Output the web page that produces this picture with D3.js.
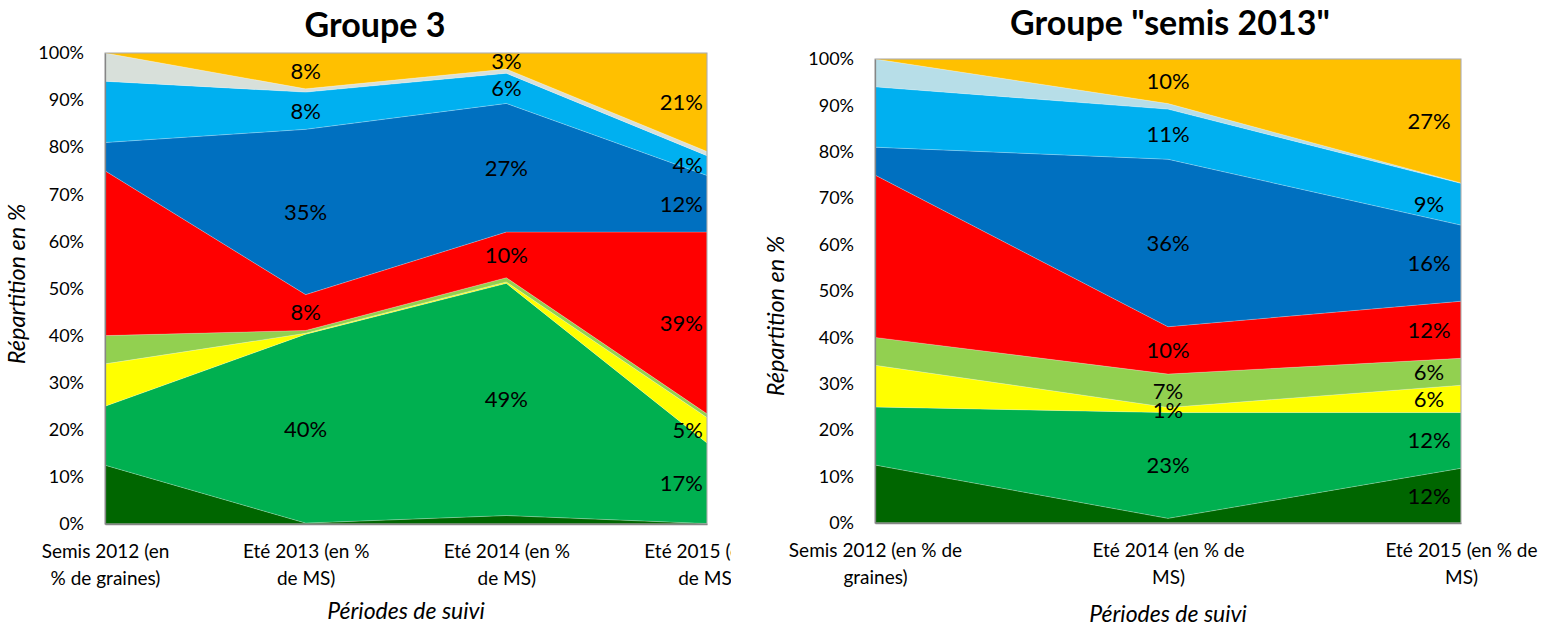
<!DOCTYPE html>
<html>
<head>
<meta charset="utf-8">
<script src="https://cdn.jsdelivr.net/npm/d3@7"></script>
<style>
  html, body { margin: 0; padding: 0; background: #fff; }
  svg { display: block; font-family: Lato, "Open Sans", sans-serif; }
</style>
</head>
<body>
<svg id="fig" width="1553" height="630"></svg>
<script>
// Stacked layers, bottom to top (percent of the total at each period)
const layerKeys = ["vertFonce", "vert", "jaune", "vertClair", "rouge", "bleu", "bleuClair", "pale", "orange"];

// Groupe 3
const g3Periods = [
  ["Semis 2012 (en", "% de graines)"],
  ["Eté 2013 (en %", "de MS)"],
  ["Eté 2014 (en %", "de MS)"],
  ["Eté 2015 (en %", "de MS)"]
];
const g3VertFonce = [12.5, 0.2, 1.8, 0.1];
const g3Vert      = [12.5, 40.1, 49.3, 17.1];
const g3Jaune     = [9.0, 0.2, 0.3, 5.4];
const g3VertClair = [6.0, 0.6, 0.9, 0.8];
const g3Rouge     = [35.0, 7.6, 9.7, 38.6];
const g3Bleu      = [6.0, 35.1, 27.3, 12.0];
const g3BleuClair = [13.0, 7.9, 6.4, 4.2];
const g3Pale      = [6.0, 0.7, 0.9, 0.9];
const g3Orange    = [0.0, 7.6, 3.4, 20.9];
// [period index, layer] pairs that carry a value label
const g3Labels = [
  [1, "vert"], [1, "rouge"], [1, "bleu"], [1, "bleuClair"], [1, "orange"],
  [2, "vert"], [2, "rouge"], [2, "bleu"], [2, "bleuClair"], [2, "orange"],
  [3, "vert"], [3, "jaune"], [3, "rouge"], [3, "bleu"], [3, "bleuClair"], [3, "orange"]
];

// Groupe "semis 2013"
const s13Periods = [
  ["Semis 2012 (en % de", "graines)"],
  ["Eté 2014 (en % de", "MS)"],
  ["Eté 2015 (en % de", "MS)"]
];
const s13VertFonce = [12.5, 1.0, 11.8];
const s13Vert      = [12.5, 22.8, 12.0];
const s13Jaune     = [9.0, 1.1, 5.9];
const s13VertClair = [6.0, 7.2, 5.8];
const s13Rouge     = [35.0, 10.2, 12.3];
const s13Bleu      = [6.0, 36.1, 16.4];
const s13BleuClair = [13.0, 10.8, 9.0];
const s13Pale      = [6.0, 1.2, 0.1];
const s13Orange    = [0.0, 9.6, 26.7];
const s13Labels = [
  [1, "vert"], [1, "jaune"], [1, "vertClair"], [1, "rouge"], [1, "bleu"], [1, "bleuClair"], [1, "orange"],
  [2, "vertFonce"], [2, "vert"], [2, "jaune"], [2, "vertClair"], [2, "rouge"], [2, "bleu"], [2, "bleuClair"], [2, "orange"]
];

const yTicks = [0, 10, 20, 30, 40, 50, 60, 70, 80, 90, 100];

const baseColors = {
  vertFonce: "#006600", vert: "#00B050", jaune: "#FFFF00", vertClair: "#92D050",
  rouge: "#FF0000", bleu: "#0070C0", bleuClair: "#00B0F0", orange: "#FFC000"
};

const svg = d3.select("#fig");
const fmtPct = d => d3.format(".0f")(d) + "%";

function drawChart(opt) {
  const rows = opt.periods.map((p, i) => {
    const r = { idx: i };
    layerKeys.forEach((k, j) => { r[k] = opt.layers[j][i]; });
    return r;
  });
  const stacked = d3.stack().keys(layerKeys)(rows);

  const g = svg.append("g");
  if (opt.clipRight) {
    const id = "clip" + Math.round(opt.left);
    svg.append("defs").append("clipPath").attr("id", id)
      .append("rect").attr("x", 0).attr("y", 0).attr("width", opt.clipRight).attr("height", 630);
    g.attr("clip-path", `url(#${id})`);
  }

  const x = d3.scalePoint().domain(rows.map(r => r.idx)).range([opt.left, opt.right]);
  const y = d3.scaleLinear().domain([0, 100]).range([opt.bottom, opt.top]);

  const colors = Object.assign({}, baseColors, { pale: opt.paleColor });

  const area = d3.area()
    .x(d => x(d.data.idx))
    .y0(d => y(d[0]))
    .y1(d => y(d[1]));

  g.append("g").selectAll("path").data(stacked).join("path")
    .attr("d", area)
    .attr("fill", d => colors[d.key])
    .attr("stroke", "rgba(255,255,255,0.35)")
    .attr("stroke-width", 0.6);

  // plot frame
  g.append("rect")
    .attr("x", opt.left).attr("y", opt.top)
    .attr("width", opt.right - opt.left).attr("height", opt.bottom - opt.top)
    .attr("fill", "none").attr("stroke", "#A6A6A6").attr("stroke-width", 1);

  // y axis
  const ya = g.append("g").attr("transform", `translate(${opt.left},0)`)
    .call(d3.axisLeft(y).tickValues(yTicks).tickFormat(d => d + "%").tickSize(0).tickPadding(21));
  ya.select(".domain").attr("stroke", "#868686").attr("stroke-width", 1.3);
  ya.selectAll("text").attr("font-size", 18).attr("fill", "#000").attr("font-family", "Lato");

  // x axis
  const xa = g.append("g").attr("transform", `translate(0,${opt.bottom})`)
    .call(d3.axisBottom(x).tickSize(0).tickFormat(""));
  xa.select(".domain").attr("stroke", "#868686").attr("stroke-width", 1.3);
  xa.selectAll(".tick").each(function (d) {
    const t = d3.select(this).append("text")
      .attr("fill", "#000").attr("font-size", 19).attr("font-family", "Lato")
      .attr("text-anchor", "middle");
    opt.periods[d].forEach((line, li) => {
      t.append("tspan").attr("x", 0).attr("y", opt.xLabelY + li * 27).text(line);
    });
  });

  // value labels
  const byKey = {};
  stacked.forEach(s => { byKey[s.key] = s; });
  const lastIdx = rows.length - 1;
  g.append("g").selectAll("text").data(opt.labels).join("text")
    .attr("x", ([i]) => i === lastIdx ? x(i) + opt.lastDx : x(i))
    .attr("y", ([i, k]) => y((byKey[k][i][0] + byKey[k][i][1]) / 2))
    .attr("dy", "0.36em")
    .attr("text-anchor", ([i]) => i === lastIdx ? opt.lastAnchor : "middle")
    .attr("font-size", 22).attr("font-family", "Lato").attr("fill", "#000")
    .text(([i, k]) => fmtPct(rows[i][k]));

  // titles
  g.append("text").attr("x", opt.titleX).attr("y", opt.titleY)
    .attr("text-anchor", "middle").attr("font-size", 34).attr("font-weight", "bold")
    .attr("font-family", "Lato").attr("fill", "#000").text(opt.title);

  g.append("text").attr("x", (opt.left + opt.right) / 2).attr("y", opt.xTitleY)
    .attr("text-anchor", "middle").attr("font-size", 23).attr("font-style", "italic")
    .attr("font-family", "Lato").attr("fill", "#000").text("Périodes de suivi");

  g.append("text")
    .attr("transform", `translate(${opt.yTitleX},${opt.yTitleY}) rotate(-90)`)
    .attr("text-anchor", "middle").attr("font-size", 23.5).attr("font-style", "italic")
    .attr("font-family", "Lato").attr("fill", "#000").text("Répartition en %");
}

drawChart({
  periods: g3Periods,
  layers: [g3VertFonce, g3Vert, g3Jaune, g3VertClair, g3Rouge, g3Bleu, g3BleuClair, g3Pale, g3Orange],
  labels: g3Labels,
  paleColor: "#D8E0DA",
  left: 105, right: 707, top: 53, bottom: 524,
  clipRight: 731,
  xLabelY: 34, xTitleY: 619,
  lastDx: -4, lastAnchor: "end",
  title: "Groupe 3", titleX: 375, titleY: 37,
  yTitleX: 25, yTitleY: 284
});

drawChart({
  periods: s13Periods,
  layers: [s13VertFonce, s13Vert, s13Jaune, s13VertClair, s13Rouge, s13Bleu, s13BleuClair, s13Pale, s13Orange],
  labels: s13Labels,
  paleColor: "#B7DEE8",
  left: 875, right: 1461, top: 59, bottom: 523,
  clipRight: null,
  xLabelY: 34, xTitleY: 622,
  lastDx: -32, lastAnchor: "middle",
  title: "Groupe \"semis 2013\"", titleX: 1170, titleY: 35,
  yTitleX: 784, yTitleY: 316
});
</script>
</body>
</html>
